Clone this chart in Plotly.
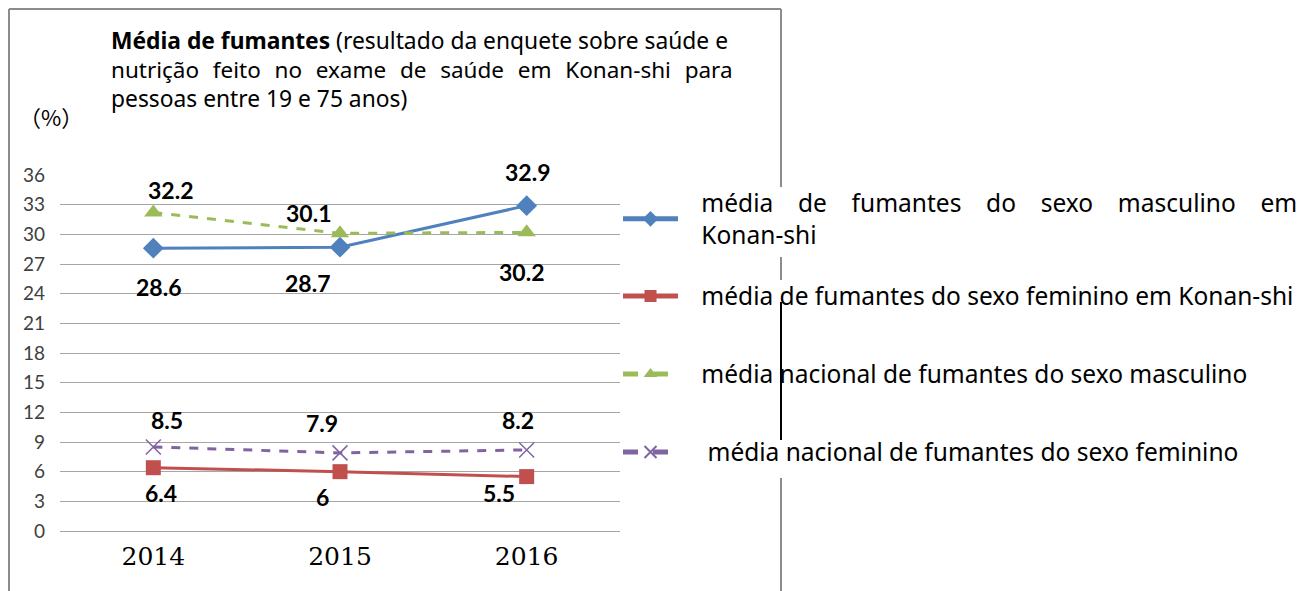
import plotly.graph_objects as go

# ---------------- data ----------------
years = ["2014", "2015", "2016"]
male_konan = [28.6, 28.7, 32.9]
female_konan = [6.4, 6.0, 5.5]
male_national = [32.2, 30.1, 30.2]
female_national = [8.5, 7.9, 8.2]

SP = "\u2002\u2005"
series_names = [
    f"\u2002\u2005média {SP}de {SP}fumantes {SP}do {SP}sexo {SP}masculino {SP}em<br>\u2002\u2005Konan-shi",
    "\u2002\u2005média de fumantes do sexo feminino em Konan-shi",
    "\u2002\u2005média nacional de fumantes do sexo masculino",
    "\u2002\u2002média nacional de fumantes do sexo feminino",
]
y_ticks = list(range(0, 37, 3))

# ---------------- geometry (screen px; page has an 8px body margin) ----------------
OFF = 8
W, H = 1306 - OFF, 591 - OFF
ML, MT = 60 - OFF, 175 - OFF
PW, PH = 560, 356
MR = W - ML - PW
MB = H - MT - PH

def px_x(px):
    return (px - OFF - ML) / PW

def px_y(py):
    return (H - MB - (py - OFF)) / PH

colors = ["#4F81BD", "#C0504D", "#9BBB59", "#8064A2"]
symbols = ["diamond", "square", "triangle-up", "x-thin"]
dashes = ["solid", "solid", "dash", "dash"]
msizes = [16, 15, 16, 15]
legend_ids = ["legend", "legend2", "legend3", "legend4"]
legend_centers = [219, 296, 374, 452]

# label offsets (pixels) for each series / point
label_shifts = [
    [(5, -39), (-33, -36), (1, 34)],
    [(8, -25), (-18, -25), (-28, -16)],
    [(17, 23), (-32, 20), (-5, -40)],
    [(14, 27), (-18, 30), (-9, 30)],
]

all_series = [male_konan, female_konan, male_national, female_national]

fig = go.Figure()
for i, vals in enumerate(all_series):
    marker = dict(symbol=symbols[i], size=msizes[i], color=colors[i])
    if symbols[i] == "x-thin":
        marker["line"] = dict(color=colors[i], width=1.5)
    fig.add_trace(go.Scatter(
        x=years, y=vals, mode="lines+markers", name=series_names[i],
        legend=legend_ids[i],
        line=dict(color=colors[i], width=3, dash=dashes[i]),
        marker=marker,
        hoverinfo="skip",
    ))

annotations = []
for i, vals in enumerate(all_series):
    for j, v in enumerate(vals):
        dx, dy = label_shifts[i][j]
        annotations.append(dict(
            x=j, y=v, xref="x", yref="y", text=f"<b>{v:g}</b>",
            showarrow=False, xshift=dx, yshift=dy,
            font=dict(family="Lato", size=23, color="black"),
        ))

title_font = dict(family="Noto Sans", size=22.8, color="black")
title_font2 = dict(family="Noto Sans", size=22.5, color="black")
G = " \u2005\u200a"
annotations += [
    dict(x=px_x(109), y=px_y(40), xref="paper", yref="paper", xanchor="left", yanchor="middle",
         text="<b>Média de fumantes</b> (resultado da enquete sobre saúde e",
         showarrow=False, font=title_font),
    dict(x=px_x(109), y=px_y(70), xref="paper", yref="paper", xanchor="left", yanchor="middle",
         text=G.join(["nutrição", "feito", "no", "exame", "de", "saúde", "em", "Konan-shi", "para"]),
         showarrow=False, font=title_font2),
    dict(x=px_x(109), y=px_y(99), xref="paper", yref="paper", xanchor="left", yanchor="middle",
         text="pessoas entre 19 e 75 anos)",
         showarrow=False, font=title_font),
    dict(x=px_x(51), y=px_y(116), xref="paper", yref="paper", xanchor="center", yanchor="middle",
         text="（%）", showarrow=False,
         font=dict(family="Noto Sans CJK JP", size=22, color="black")),
]

gray = "#8c8c8c"
border_segments = [
    (9, 9, 781, 9, gray),
    (9, 9, 9, 591, gray),
    (781, 9, 781, 187, gray),
    (781, 257, 781, 280, gray),
    (781, 302, 781, 440, "black"),
    (781, 478, 781, 591, gray),
]
shapes = [
    dict(type="line", xref="paper", yref="paper",
         x0=px_x(a), y0=px_y(b), x1=px_x(c), y1=px_y(d),
         line=dict(color=col, width=2))
    for a, b, c, d, col in border_segments
]

legend_font = dict(family="Noto Sans", size=24.5, color="black")
layout_legends = {}
for lid, cy in zip(legend_ids, legend_centers):
    layout_legends[lid] = dict(
        x=px_x(618), y=px_y(cy), xanchor="left", yanchor="middle",
        font=legend_font, itemwidth=55, itemsizing="constant",
        bgcolor="rgba(0,0,0,0)",
    )

fig.update_layout(
    width=W, height=H,
    margin=dict(l=ML, r=MR, t=MT, b=MB, autoexpand=False),
    paper_bgcolor="white", plot_bgcolor="white",
    showlegend=True,
    annotations=annotations,
    shapes=shapes,
    xaxis=dict(
        type="category", categoryorder="array", categoryarray=years,
        range=[-0.5, 2.5], showgrid=False, showline=False, zeroline=False,
        ticks="", tickfont=dict(family="DejaVu Serif", size=25, color="black"),
        ticklabelstandoff=8,
    ),
    yaxis=dict(
        range=[0, 36], tickvals=y_ticks, showgrid=True, gridcolor="#a6a6a6", gridwidth=1,
        zeroline=True, zerolinecolor="#a6a6a6", zerolinewidth=1, showline=False, ticks="",
        tickfont=dict(family="Lato", size=19, color="#404040"),
        ticklabelstandoff=14,
    ),
    **layout_legends,
)

fig.write_html("out.html")
